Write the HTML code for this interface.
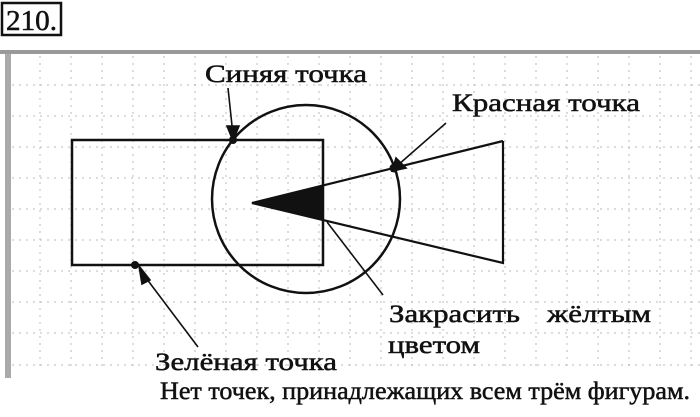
<!DOCTYPE html>
<html><head><meta charset="utf-8"><style>
html,body{margin:0;padding:0;background:#fff;width:700px;height:417px;overflow:hidden}
svg{display:block}
text{font-family:"Liberation Serif",serif;fill:#111;stroke:#111;stroke-width:0.5}
</style></head><body>
<svg width="700" height="417" viewBox="0 0 700 417" xmlns="http://www.w3.org/2000/svg">
<rect x="2" y="3" width="59" height="32" fill="none" stroke="#111" stroke-width="2.5"/>
<text x="6" y="30" font-size="28" textLength="51" lengthAdjust="spacingAndGlyphs">210.</text>
<rect x="0" y="50" width="700" height="4" fill="#999"/>
<rect x="5" y="54" width="6" height="324" fill="#aaa"/>
<g stroke="#bbb" stroke-width="1" stroke-dasharray="2,5">
<line x1="40" y1="56" x2="40" y2="370"/><line x1="71" y1="56" x2="71" y2="370"/><line x1="102" y1="56" x2="102" y2="370"/><line x1="133" y1="56" x2="133" y2="370"/><line x1="164" y1="56" x2="164" y2="370"/><line x1="195" y1="56" x2="195" y2="370"/><line x1="226" y1="56" x2="226" y2="370"/><line x1="257" y1="56" x2="257" y2="370"/><line x1="288" y1="56" x2="288" y2="370"/><line x1="319" y1="56" x2="319" y2="370"/><line x1="350" y1="56" x2="350" y2="370"/><line x1="381" y1="56" x2="381" y2="370"/><line x1="412" y1="56" x2="412" y2="370"/><line x1="443" y1="56" x2="443" y2="370"/><line x1="474" y1="56" x2="474" y2="370"/><line x1="505" y1="56" x2="505" y2="370"/><line x1="536" y1="56" x2="536" y2="370"/><line x1="567" y1="56" x2="567" y2="370"/><line x1="598" y1="56" x2="598" y2="370"/><line x1="629" y1="56" x2="629" y2="370"/><line x1="660" y1="56" x2="660" y2="370"/><line x1="691" y1="56" x2="691" y2="370"/>
<line x1="12" y1="85" x2="700" y2="85"/><line x1="12" y1="116" x2="700" y2="116"/><line x1="12" y1="147" x2="700" y2="147"/><line x1="12" y1="178" x2="700" y2="178"/><line x1="12" y1="209" x2="700" y2="209"/><line x1="12" y1="240" x2="700" y2="240"/><line x1="12" y1="271" x2="700" y2="271"/><line x1="12" y1="302" x2="700" y2="302"/><line x1="12" y1="333" x2="700" y2="333"/><line x1="12" y1="365" x2="700" y2="365"/>
</g>
<g fill="none" stroke="#111" stroke-width="2.5">
<rect x="72" y="140" width="251" height="125"/>
<circle cx="306" cy="199" r="94"/>
<polyline points="503,141 252,203 503,263 503,141" stroke-width="2.2"/>
</g>
<polygon points="252,203 323,186 323,221" fill="#111"/>
<g stroke="#111" stroke-width="1.6" fill="#111">
<line x1="228" y1="88" x2="233" y2="135"/><polygon points="227,126 239,126 233,141"/>
<line x1="446" y1="123" x2="398" y2="165"/><polygon points="396,158 406,168 392,171"/>
<line x1="198" y1="347" x2="140" y2="270"/><polygon points="139,266 150,280 142,284"/>
<line x1="383" y1="295" x2="327" y2="222"/>
</g>
<circle cx="233" cy="140" r="4" fill="#111"/>
<circle cx="394" cy="168" r="4.5" fill="#111"/>
<circle cx="135" cy="265" r="4" fill="#111"/>
<g font-size="25">
<text x="205" y="82" textLength="162" lengthAdjust="spacingAndGlyphs">Синяя точка</text>
<text x="452" y="111" textLength="188" lengthAdjust="spacingAndGlyphs">Красная точка</text>
<text x="389" y="322" textLength="131" lengthAdjust="spacingAndGlyphs">Закрасить</text>
<text x="547" y="322" textLength="104" lengthAdjust="spacingAndGlyphs">жёлтым</text>
<text x="388" y="353" textLength="92" lengthAdjust="spacingAndGlyphs">цветом</text>
<text x="155" y="370" textLength="182" lengthAdjust="spacingAndGlyphs">Зелёная точка</text>
<text x="160" y="399" textLength="530" lengthAdjust="spacingAndGlyphs">Нет точек, принадлежащих всем трём фигурам.</text>
</g>
</svg>
</body></html>
